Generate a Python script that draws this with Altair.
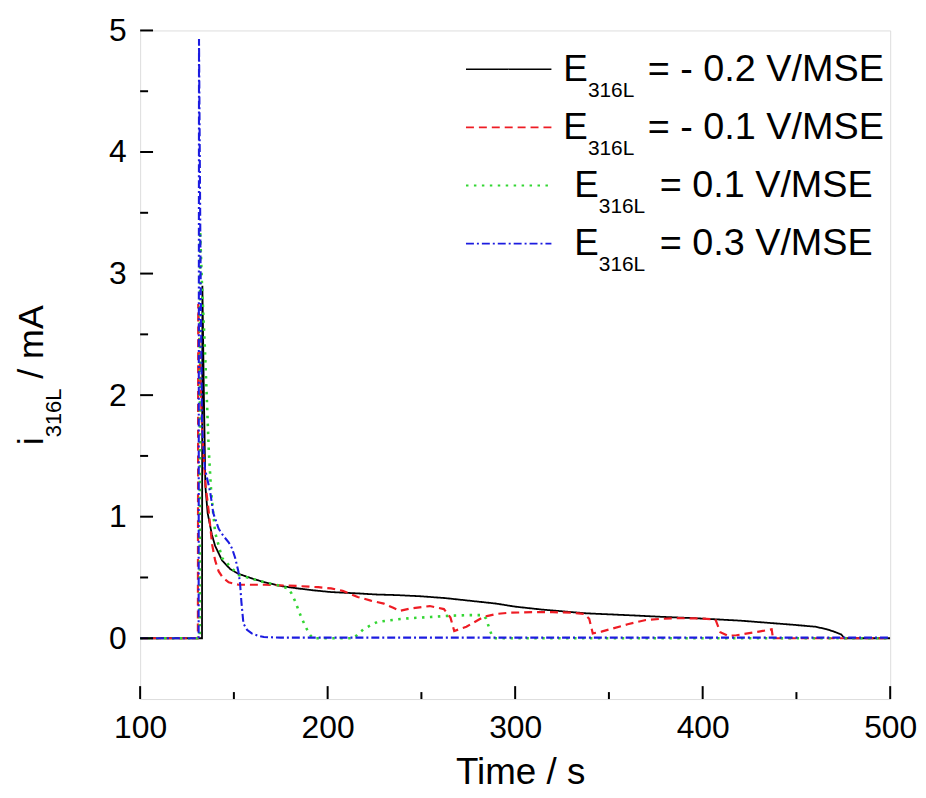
import altair as alt
import pandas as pd

# ---------------- data ----------------
t_m02 = [100, 133.0, 133.2, 134.0, 134.8, 136.0, 138.3, 140, 143.7, 148, 152.5, 160, 166.5, 175, 184, 192,
         201.8, 215, 226, 237, 250, 263, 275, 290, 300, 315, 338, 360, 380, 396, 420, 449, 460, 466, 470,
         474, 475.6, 500]
i_m02 = [0, 0, 2.9, 2.0, 1.25, 1.03, 0.85, 0.76, 0.64, 0.57, 0.53, 0.49, 0.46, 0.43, 0.41, 0.395,
         0.38, 0.37, 0.36, 0.355, 0.345, 0.33, 0.31, 0.285, 0.26, 0.235, 0.205, 0.19, 0.175, 0.165, 0.145,
         0.11, 0.095, 0.075, 0.055, 0.03, 0, 0]

t_m01 = [100, 130.8, 131.0, 132.0, 133.0, 134.0, 134.9, 136.6, 138.4, 140, 141.9, 144, 147.2, 152.5, 166.5,
         184, 195, 201.8, 208, 216, 223, 230, 235, 238.5, 244, 254.5, 262, 265.5, 267.5, 274, 278, 283, 290,
         297, 310, 320, 330, 337, 339.5, 341.4, 346, 352, 360, 369.7, 378, 387, 398, 406.8, 409.4, 413.6,
         418, 424, 430, 436.8, 437.5, 500]
i_m01 = [0, 0, 2.75, 2.2, 1.75, 1.45, 1.26, 1.04, 0.77, 0.64, 0.55, 0.5, 0.46, 0.44, 0.44,
         0.43, 0.42, 0.41, 0.39, 0.34, 0.31, 0.285, 0.25, 0.225, 0.245, 0.265, 0.24, 0.17, 0.06, 0.095, 0.13,
         0.175, 0.2, 0.21, 0.215, 0.215, 0.21, 0.2, 0.16, 0.04, 0.055, 0.08, 0.115, 0.15, 0.16, 0.165, 0.163,
         0.155, 0.05, 0.02, 0.025, 0.04, 0.055, 0.074, 0, 0]

t_p01 = [100, 131.8, 132.0, 133.0, 134.5, 135.5, 136.6, 137.9, 140, 143.7, 152.5, 166.5, 175, 179, 180.7,
         182.5, 184, 186, 187.8, 190, 192, 214, 216.5, 219.6, 226.6, 237, 244, 255, 265, 275, 283, 284.5,
         285.6, 287.4, 289, 500]
i_p01 = [0, 0, 3.35, 2.9, 2.4, 2.0, 1.55, 1.2, 0.87, 0.66, 0.52, 0.46, 0.43, 0.41, 0.37,
         0.31, 0.25, 0.17, 0.11, 0.04, 0.0, 0.0, 0.04, 0.08, 0.135, 0.155, 0.165, 0.175, 0.185, 0.19, 0.19,
         0.16, 0.11, 0.03, 0, 0]

t_p03 = [100, 131.2, 131.4, 131.8, 132.2, 133.0, 134.5, 137.4, 139.0, 141.9, 144.5, 147.2, 149, 150.7,
         152.4, 153.3, 154.0, 155.1, 157, 159.5, 163, 166, 175, 500]
i_p03 = [0, 0, 4.93, 4.0, 3.1, 1.75, 1.4, 1.2, 1.03, 0.9, 0.84, 0.79, 0.74, 0.66,
         0.55, 0.45, 0.3, 0.12, 0.07, 0.04, 0.02, 0.01, 0.005, 0.005]

series_text = ["= - 0.2 V/MSE", "= - 0.1 V/MSE", "= 0.1 V/MSE", "= 0.3 V/MSE"]
series_t = [t_m02, t_m01, t_p01, t_p03]
series_i = [i_m02, i_m01, i_p01, i_p03]

x_ticks_major = [100, 200, 300, 400, 500]
x_ticks_minor = [150, 250, 350, 450]
y_ticks_major = [0, 1, 2, 3, 4, 5]
y_ticks_minor = [0.5, 1.5, 2.5, 3.5, 4.5]

# ---------------- styles ----------------
colors = ["#000000", "#ee1c24", "#33d633", "#1c1ce0"]
dashes = [[1, 0], [8, 5], [2.5, 5.5], [8, 3, 2, 3]]
widths = [1.8, 2.2, 2.6, 2.1]

FONT = "Liberation Sans"
W, H = 755, 673

xs = alt.Scale(domain=[100, 500], nice=False, zero=False)
ys = alt.Scale(domain=[-0.5, 5], nice=False, zero=False)
xaxis = alt.Axis(values=x_ticks_major, title=None, grid=False, ticks=False, tickSize=0, domain=False,
                 labelFontSize=32, labelFont=FONT, labelColor="black", labelPadding=14,
                 labelFlush=False, labelOverlap=False, format="d")
yaxis = alt.Axis(values=y_ticks_major, title=None, grid=False, ticks=False, tickSize=0, domain=False,
                 labelFontSize=32, labelFont=FONT, labelColor="black", labelPadding=14,
                 labelOverlap=False, format="d")

one = pd.DataFrame({"k": [0]})
layers = []

# data lines
for t, v, c, d, w in zip(series_t, series_i, colors, dashes, widths):
    df = pd.DataFrame({"t": t, "i": v})
    layers.append(
        alt.Chart(df).mark_line(color=c, strokeDash=d, strokeWidth=w, clip=True).encode(
            x=alt.X("t:Q", scale=xs, axis=xaxis),
            y=alt.Y("i:Q", scale=ys, axis=yaxis),
        )
    )

# inward ticks
for vals, ln in [(x_ticks_major, 13), (x_ticks_minor, 7)]:
    layers.append(
        alt.Chart(pd.DataFrame({"t": vals})).mark_rule(color="black", strokeWidth=2).encode(
            x=alt.X("t:Q", scale=xs, axis=xaxis), y=alt.value(H), y2=alt.value(H - ln)
        )
    )
for vals, ln in [(y_ticks_major, 13), (y_ticks_minor, 8)]:
    layers.append(
        alt.Chart(pd.DataFrame({"i": vals})).mark_rule(color="black", strokeWidth=2).encode(
            y=alt.Y("i:Q", scale=ys, axis=yaxis), x=alt.value(0), x2=alt.value(ln)
        )
    )


def txt(s, x, y, size, angle=0, align="left"):
    return alt.Chart(one).mark_text(
        font=FONT, fontSize=size, color="black", align=align, baseline="alphabetic", angle=angle
    ).encode(x=alt.value(x), y=alt.value(y), text=alt.value(s))


# legend
row_line_y = [39, 97.5, 156, 214.5]
e_x = [426, 426, 437, 437]
rest_x = [511, 511, 523, 523]
for k in range(4):
    ly = row_line_y[k]
    layers.append(
        alt.Chart(one).mark_rule(color=colors[k], strokeDash=dashes[k], strokeWidth=widths[k] * 0.8).encode(
            x=alt.value(328), x2=alt.value(414), y=alt.value(ly)
        )
    )
    layers.append(txt("E", e_x[k], ly + 12, 37))
    layers.append(txt("316L", e_x[k] + 24.7, ly + 28, 21))
    layers.append(txt(series_text[k], rest_x[k], ly + 12, 38))

# axis titles
layers.append(txt("Time / s", 383, 759, 37, align="center"))
layers.append(txt("i", -98, 417.5, 36, angle=270))
layers.append(txt("316L", -80, 409.5, 22, angle=270))
layers.append(txt("/ mA", -98, 350.6, 36, angle=270))

chart = alt.layer(*layers).properties(
    width=W, height=H,
    autosize=alt.AutoSizeParams(type="none"),
    padding={"left": 133, "top": 20, "right": 28, "bottom": 95},
).configure_view(stroke="black", strokeWidth=2).configure(background="white")

chart.save("out.html", embed_options={"renderer": "svg", "actions": False})
